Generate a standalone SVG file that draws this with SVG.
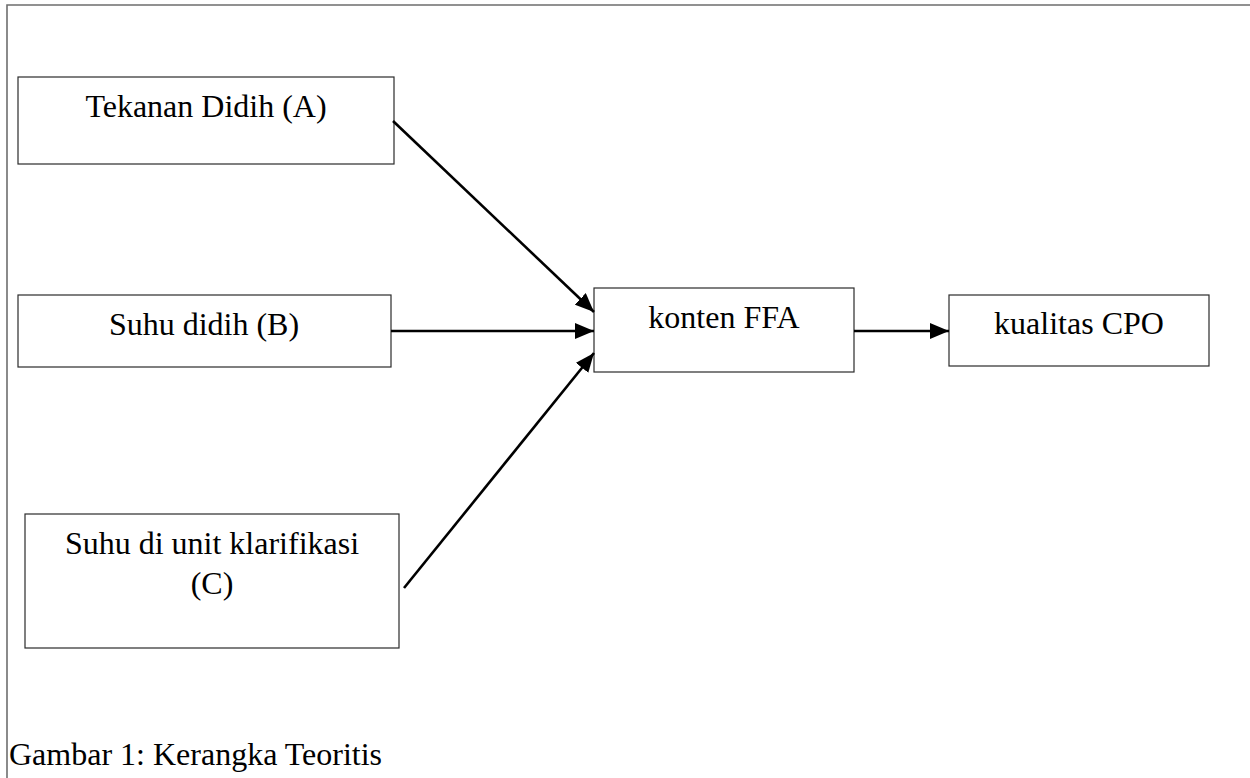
<svg xmlns="http://www.w3.org/2000/svg" width="1250" height="778" viewBox="0 0 1250 778">
  <style>
    .box { fill: #ffffff; stroke: #2b2b2b; stroke-width: 1.2; }
    .lbl { font-family: "Liberation Serif", "Times New Roman", serif; font-size: 32px; fill: #000000; text-anchor: middle; }
    .cap { font-family: "Liberation Serif", "Times New Roman", serif; font-size: 32px; fill: #000000; }
    .conn { stroke: #000000; stroke-width: 2.6; fill: none; marker-end: url(#arrow); }
  </style>
  <defs>
    <marker id="arrow" markerUnits="userSpaceOnUse" markerWidth="20" markerHeight="16" refX="19" refY="8" orient="auto">
      <path d="M0,0 L19,8 L0,16 Z" fill="#000000"/>
    </marker>
  </defs>
  <rect x="0" y="0" width="1250" height="778" fill="#ffffff"/>
  <path d="M7,780 L7,5 L1252,5" fill="none" stroke="#6e6e6e" stroke-width="1.6"/>

  <g id="node-A">
    <rect class="box" x="18" y="77" width="376" height="87"/>
    <text class="lbl" x="206" y="117">Tekanan Didih (A)</text>
  </g>
  <g id="node-B">
    <rect class="box" x="18" y="295" width="373" height="72"/>
    <text class="lbl" x="204" y="335">Suhu didih (B)</text>
  </g>
  <g id="node-C">
    <rect class="box" x="25" y="514" width="374" height="134"/>
    <text class="lbl" x="212" y="554">Suhu di unit klarifikasi</text>
    <text class="lbl" x="212" y="594">(C)</text>
  </g>
  <g id="node-FFA">
    <rect class="box" x="594" y="288" width="260" height="84"/>
    <text class="lbl" x="724" y="328">konten FFA</text>
  </g>
  <g id="node-CPO">
    <rect class="box" x="949" y="295" width="260" height="71"/>
    <text class="lbl" x="1079" y="334">kualitas CPO</text>
  </g>

  <g id="connectors">
    <line class="conn" x1="393" y1="121" x2="594" y2="312"/>
    <line class="conn" x1="391" y1="331" x2="594" y2="331"/>
    <line class="conn" x1="404" y1="588" x2="594" y2="353"/>
    <line class="conn" x1="854" y1="331" x2="949" y2="331"/>
  </g>

  <text class="cap" x="9" y="765">Gambar 1: Kerangka Teoritis</text>
</svg>
